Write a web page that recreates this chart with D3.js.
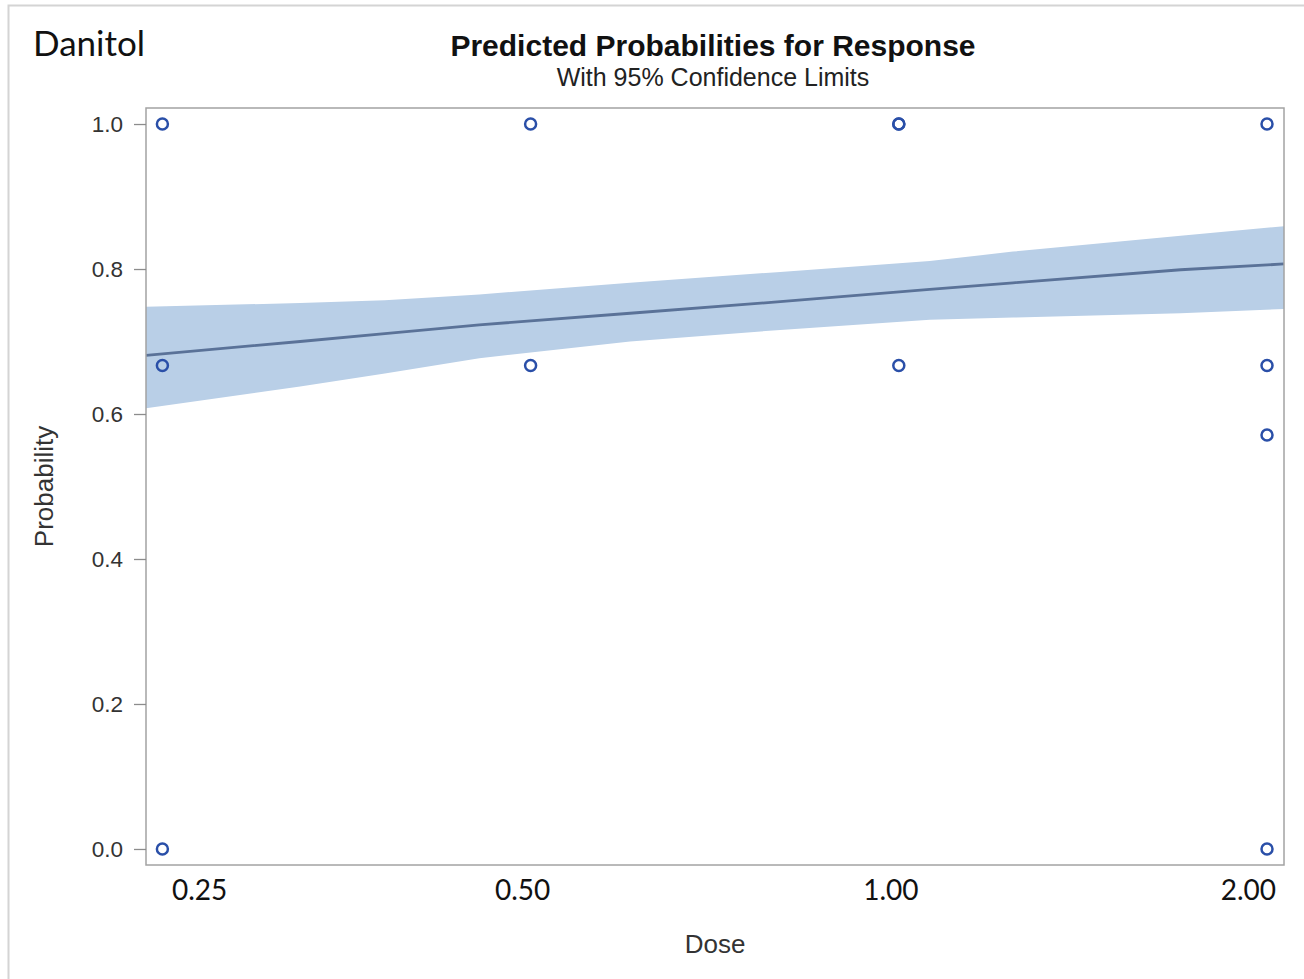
<!DOCTYPE html>
<html>
  <head>
    <meta charset="utf-8">
    <title>Danitol</title>
    <script src="https://cdn.jsdelivr.net/npm/d3@7"></script>
    <style>
      body
      {
        margin: 0px;
        padding: 0px;
        background: white;
      }

      svg
      {
        display: block;
      }

      .sas
      {
        font-family: "Liberation Sans", Arial, sans-serif;
      }

      .calibri
      {
        font-family: Lato, "Open Sans", sans-serif;
      }
    </style>
  </head>
  <body>

    <svg id="chart"></svg>

    <script>

      //--- Observed proportions
      var obsDose = [0.25, 0.25, 0.25, 0.5, 0.5, 1, 1, 1, 2, 2, 2, 2];
      var obsProb = [1.0, 0.667, 0.0, 1.0, 0.667, 1.0, 1.0, 0.667, 1.0, 0.667, 0.571, 0.0];

      //--- Fitted curve with 95% confidence limits
      var fitDose  = [0.2424, 0.324, 0.38, 0.454, 0.603, 0.80, 1.06, 1.24, 1.70, 2.065];
      var fitPred  = [0.681, 0.700, 0.711, 0.723, 0.739, 0.755, 0.772, 0.781, 0.799, 0.807];
      var fitUpper = [0.748, 0.753, 0.757, 0.765, 0.781, 0.796, 0.811, 0.824, 0.846, 0.859];
      var fitLower = [0.608, 0.638, 0.656, 0.677, 0.700, 0.716, 0.730, 0.733, 0.739, 0.745];

      //--- Axis ticks
      var doseTicks = [0.25, 0.5, 1, 2];
      var doseTickLabels = ["0.25", "0.50", "1.00", "2.00"];
      var probTicks = [0, 0.2, 0.4, 0.6, 0.8, 1.0];

      var width = 1304;
      var height = 979;
      var frame = { left: 146, right: 1284, top: 108, bottom: 865 };

      var svg = d3.select("#chart")
          .attr("width", width)
          .attr("height", height);

      //--- Scales
      var x = d3.scaleLog().base(2)
          .domain([0.2424, 2.065])
          .range([frame.left, frame.right]);

      var y = d3.scaleLinear()
          .domain([-0.0221, 1.0221])
          .range([frame.bottom, frame.top]);

      //--- Outer border (left and top)
      svg.append("path")
          .attr("d", "M8.5," + height + "V5.5H" + width)
          .attr("fill", "none")
          .attr("stroke", "#d4d4d4")
          .attr("stroke-width", 2);

      svg.append("clipPath")
          .attr("id", "plotClip")
        .append("rect")
          .attr("x", frame.left)
          .attr("y", frame.top)
          .attr("width", frame.right - frame.left)
          .attr("height", frame.bottom - frame.top);

      var fit = fitDose.map((d, i) => ({ dose: d, pred: fitPred[i], upper: fitUpper[i], lower: fitLower[i] }));

      var plot = svg.append("g").attr("clip-path", "url(#plotClip)");

      //--- Confidence band
      plot.append("path")
          .datum(fit)
          .attr("fill", "#b9cfe7")
          .attr("d", d3.area()
              .x(d => x(d.dose))
              .y0(d => y(d.lower))
              .y1(d => y(d.upper)));

      //--- Predicted line
      plot.append("path")
          .datum(fit)
          .attr("fill", "none")
          .attr("stroke", "#5a7298")
          .attr("stroke-width", 2.8)
          .attr("d", d3.line()
              .x(d => x(d.dose))
              .y(d => y(d.pred)));

      //--- Observed points
      plot.selectAll("circle")
          .data(obsDose.map((d, i) => ({ dose: d, prob: obsProb[i] })))
          .enter()
            .append("circle")
              .attr("cx", d => x(d.dose))
              .attr("cy", d => y(d.prob))
              .attr("r", 5.5)
              .attr("fill", "none")
              .attr("stroke", "#2a4fa8")
              .attr("stroke-width", 2.5);

      //--- Frame
      svg.append("rect")
          .attr("x", frame.left)
          .attr("y", frame.top)
          .attr("width", frame.right - frame.left)
          .attr("height", frame.bottom - frame.top)
          .attr("fill", "none")
          .attr("stroke", "#a3a3a3")
          .attr("stroke-width", 1.5);

      //--- Y axis
      var yAxis = svg.append("g")
          .attr("transform", "translate(" + frame.left + ",0)")
          .call(d3.axisLeft(y).tickValues(probTicks).tickFormat(d3.format(".1f")).tickSize(12).tickPadding(11));

      yAxis.select(".domain").remove();
      yAxis.selectAll("line").attr("stroke", "#8c8c8c").attr("stroke-width", 1.3);
      yAxis.selectAll("text")
          .attr("class", "sas")
          .attr("font-size", "22.5px")
          .attr("fill", "#333");

      //--- X labels (pasted under the plot, kept inside the frame)
      svg.append("g").selectAll("text")
          .data(doseTicks)
          .enter()
            .append("text")
              .attr("class", "calibri")
              .attr("font-size", "28px")
              .attr("fill", "#111")
              .attr("text-anchor", "middle")
              .attr("y", 900)
              .text((d, i) => doseTickLabels[i])
              .attr("x", function(d)
              {
                  var half = this.getComputedTextLength() / 2;
                  var cx = x(d) - 8;
                  return Math.max(frame.left + 26 + half, Math.min(frame.right - 8 - half, cx));
              });

      //--- Axis titles
      svg.append("text")
          .attr("class", "sas")
          .attr("x", (frame.left + frame.right) / 2)
          .attr("y", 953)
          .attr("text-anchor", "middle")
          .attr("font-size", "26px")
          .attr("fill", "#333")
          .text("Dose");

      svg.append("text")
          .attr("class", "sas")
          .attr("transform", "translate(53," + (frame.top + frame.bottom) / 2 + ") rotate(-90)")
          .attr("text-anchor", "middle")
          .attr("font-size", "26px")
          .attr("fill", "#333")
          .text("Probability");

      //--- Titles
      svg.append("text")
          .attr("class", "sas")
          .attr("x", 713)
          .attr("y", 56)
          .attr("text-anchor", "middle")
          .attr("font-size", "30px")
          .attr("font-weight", "bold")
          .attr("fill", "#111")
          .text("Predicted Probabilities for Response");

      svg.append("text")
          .attr("class", "sas")
          .attr("x", 713)
          .attr("y", 86)
          .attr("text-anchor", "middle")
          .attr("font-size", "25px")
          .attr("fill", "#222")
          .text("With 95% Confidence Limits");

      svg.append("text")
          .attr("class", "calibri")
          .attr("x", 33)
          .attr("y", 56)
          .attr("font-size", "35px")
          .attr("fill", "#111")
          .text("Danitol");

    </script>
  </body>
</html>
